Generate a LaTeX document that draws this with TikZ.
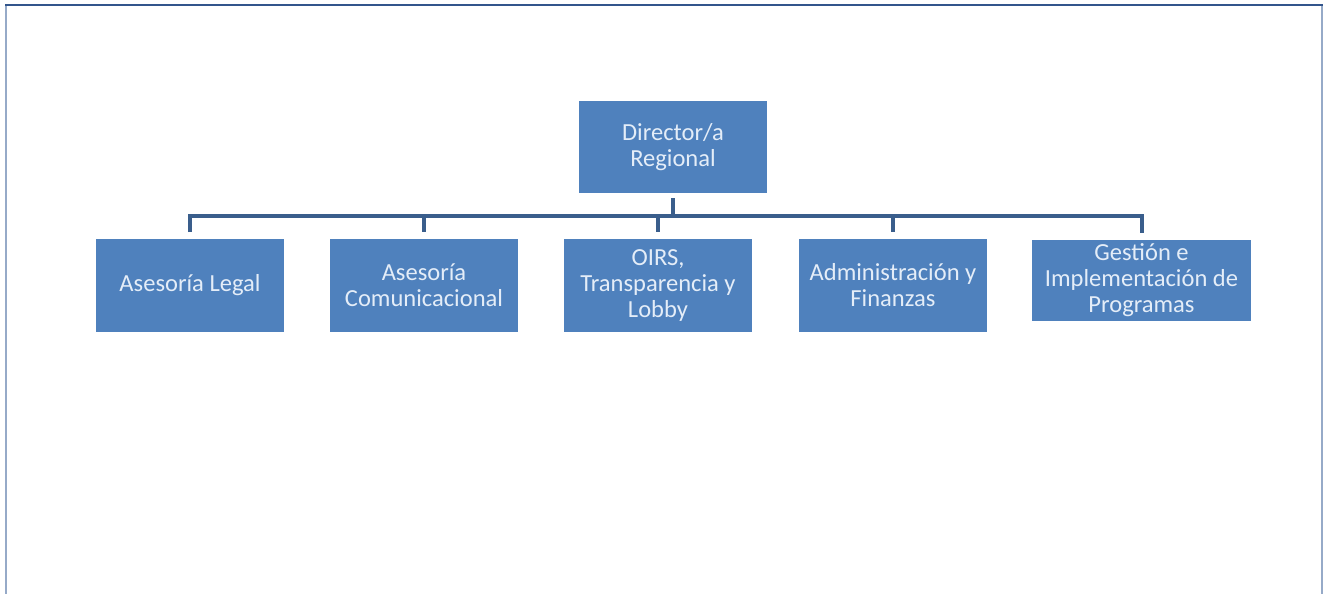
\documentclass[tikz,border=0pt]{standalone}
\usepackage{fontspec}
\setmainfont{Carlito}
\usepackage{tikz}
\definecolor{myblue}{RGB}{79,129,189}
\definecolor{mydarkblue}{RGB}{58,94,140}
\definecolor{mytext}{RGB}{228,237,248}
\definecolor{myframe}{RGB}{150,170,200}
\definecolor{myframetop}{RGB}{50,85,140}
\usetikzlibrary{positioning,calc}
\tikzset{>=latex}
\newcommand{\boxfont}{\fontsize{18.4}{19.5}\selectfont}

\begin{document}
\begin{tikzpicture}[x=0.75pt, y=-0.75pt, box/.style = {fill=myblue, text=mytext, minimum width=141pt, minimum height=69.5pt, inner sep=0pt, outer sep=0pt, align=center, font=\boxfont}, conn/.style = {draw=mydarkblue, line width=3pt, line join=miter}]
    \useasboundingbox (0,0) rectangle (1324,593);
    \draw[myframe, line width=1.5pt] (5.5,600) -- (5.5,4.5);
    \draw[myframe, line width=1.5pt] (1322,4.5) -- (1322,600);
    \draw[myframetop, line width=1.5pt] (5,4.5) -- (1323,4.5);
    \node[box] (D) at (673,147) {Director/a\\Regional};
    \foreach \x/\n/\t in {190/L/{Asesoría Legal}, 424/C/{Asesoría\\Comunicacional}, 658/O/{OIRS,\\Transparencia y\\Lobby}, 893/A/{Administración y\\Finanzas}}
    {%
        \node[box] (\n) at (\x, 285.5) {\t};
    };
    \node[box, minimum width=164pt, minimum height=61pt] (G) at (1141.5,280.5) {Gestión e\\Implementación de\\Programas};
    \coordinate (bar) at (673,216);
    \draw[conn, shorten <=3.75pt] (D.south) -- (bar);
    \draw[conn, shorten <=5.25pt, shorten >=5.25pt] (L.north) -- (L |- bar) -- (G |- bar) -- (G.north);
    \foreach \n in {C,O,A}
        \draw[conn, shorten >=5.25pt] (\n |- bar) -- (\n.north);
\end{tikzpicture}
\end{document}
